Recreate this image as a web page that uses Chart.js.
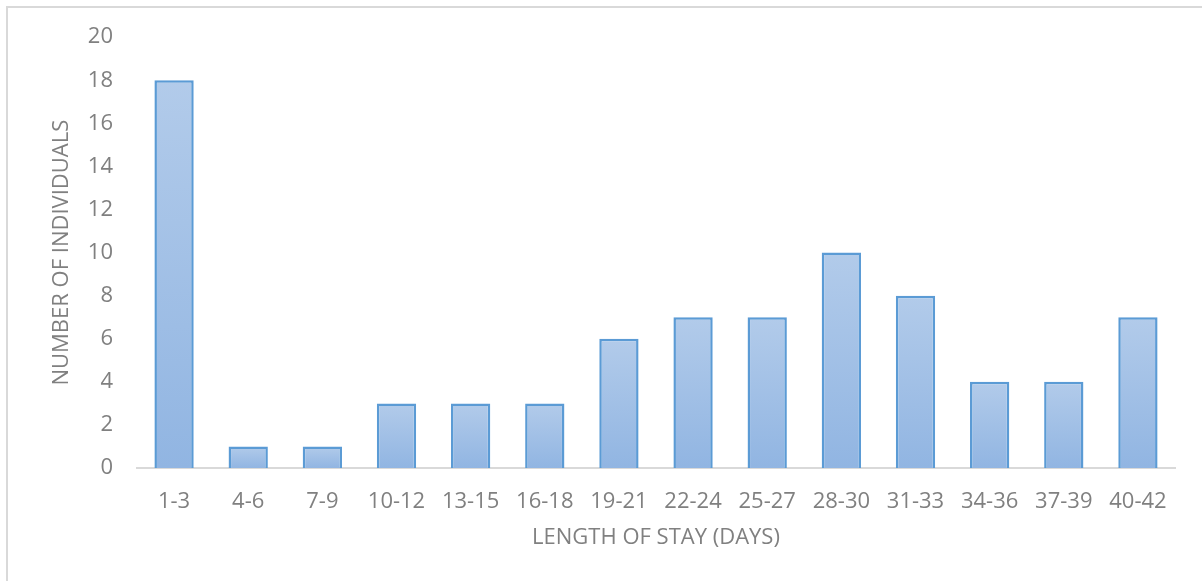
<!DOCTYPE html>
<html>
<head>
<meta charset="utf-8">
<script src="https://cdn.jsdelivr.net/npm/chart.js@4/dist/chart.umd.min.js"></script>
<style>
  html, body { margin: 0; padding: 0; background: #ffffff; }
  #wrap { position: relative; width: 1202px; height: 581px; overflow: hidden; }
  #frame { position: absolute; left: 6px; top: 6px; width: 1300px; height: 700px;
           border-top: 2px solid #d9d9d9; border-left: 2px solid #d9d9d9; box-sizing: border-box; }
  canvas { position: absolute; left: 0; top: 0; }
</style>
</head>
<body>
<div id="wrap">
  <div id="frame"></div>
  <canvas id="c" width="1202" height="581"></canvas>
</div>
<script>
const categories = ["1-3","4-6","7-9","10-12","13-15","16-18","19-21","22-24","25-27","28-30","31-33","34-36","37-39","40-42"];
const individuals = [18, 1, 1, 3, 3, 3, 6, 7, 7, 10, 8, 4, 4, 7];
const yTicks = [0, 2, 4, 6, 8, 10, 12, 14, 16, 18, 20];
const xTitle = "LENGTH OF STAY (DAYS)";
const yTitle = "NUMBER OF INDIVIDUALS";

Chart.defaults.font.family = "'Open Sans', 'Liberation Sans', sans-serif";
Chart.defaults.color = "#808080";

function barGradient(context) {
  const chart = context.chart;
  const area = chart.chartArea;
  if (!area || !chart.scales.y) return "#a5c2e6";
  const v = context.raw;
  const yTop = chart.scales.y.getPixelForValue(v);
  const yBase = chart.scales.y.getPixelForValue(0);
  const g = chart.ctx.createLinearGradient(0, yTop, 0, yBase);
  g.addColorStop(0, "#b2cbea");
  g.addColorStop(1, "#91b5e2");
  return g;
}

new Chart(document.getElementById("c"), {
  type: "bar",
  data: {
    labels: categories,
    datasets: [{
      data: individuals,
      backgroundColor: barGradient,
      borderColor: "#5b9bd5",
      borderWidth: 2.5,
      borderSkipped: "bottom",
      categoryPercentage: 1.0,
      barPercentage: 0.53
    }]
  },
  options: {
    responsive: false,
    animation: false,
    events: [],
    layout: { padding: { top: 37, right: 27, left: 0, bottom: 0 } },
    plugins: { legend: { display: false }, tooltip: { enabled: false } },
    scales: {
      x: {
        grid: { display: false, drawTicks: false },
        border: { display: true, color: "#d9d9d9", width: 2 },
        ticks: { color: "#808080", font: { size: 22 }, padding: 21, maxRotation: 0, autoSkip: false },
        title: { display: true, text: xTitle, color: "#808080", font: { size: 22 }, padding: { top: 0, bottom: 30 } },
        afterFit(scale) { scale.height = 113; }
      },
      y: {
        min: 0, max: 20,
        afterBuildTicks(scale) { scale.ticks = yTicks.map(v => ({ value: v })); },
        grid: { display: false, drawTicks: false },
        border: { display: false },
        ticks: { color: "#808080", font: { size: 22 }, padding: 24 },
        title: { display: true, text: yTitle, color: "#808080", font: { size: 22 }, padding: { top: 49, bottom: 0 } },
        afterFit(scale) { scale.width = 137; }
      }
    }
  }
});
</script>
</body>
</html>
